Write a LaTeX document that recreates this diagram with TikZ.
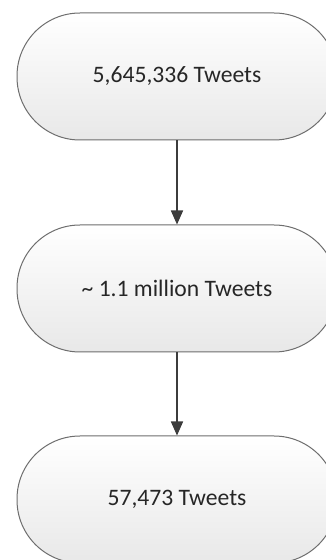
\documentclass[tikz,border=0pt]{standalone}
\usepackage{fontspec}
\setmainfont{Carlito}
\usetikzlibrary{arrows.meta}
\definecolor{edgegray}{HTML}{6E6E6E}
\definecolor{arrowgray}{HTML}{3C3C3C}
\tikzset{
  termbox/.style={draw=edgegray, line width=1pt, rounded corners=63pt,
    minimum width=320pt, minimum height=127pt, top color=white,
    bottom color=black!9, font=\fontsize{23.6}{28}\selectfont, text=black!85, inner sep=0pt},
  flowarrow/.style={draw=arrowgray, line width=1.5pt,
    -{Triangle[length=14pt,width=12pt]}, shorten >=0pt}
}
\begin{document}
\begin{tikzpicture}[x=1pt,y=1pt]
\useasboundingbox (0,0) rectangle (326,560);
\clip (0,0) rectangle (326,560);
\fill[white] (0,0) rectangle (326,560);
\node[termbox] (a) at (177,483.5) {5,645,336 Tweets};
\node[termbox] (b) at (177,271.5) {\textasciitilde{} 1.1 million Tweets};
\node[termbox] (c) at (177,60.5) {57,473 Tweets};
\draw[flowarrow] (a.south) -- (b.north);
\draw[flowarrow] (b.south) -- (c.north);
\end{tikzpicture}
\end{document}
